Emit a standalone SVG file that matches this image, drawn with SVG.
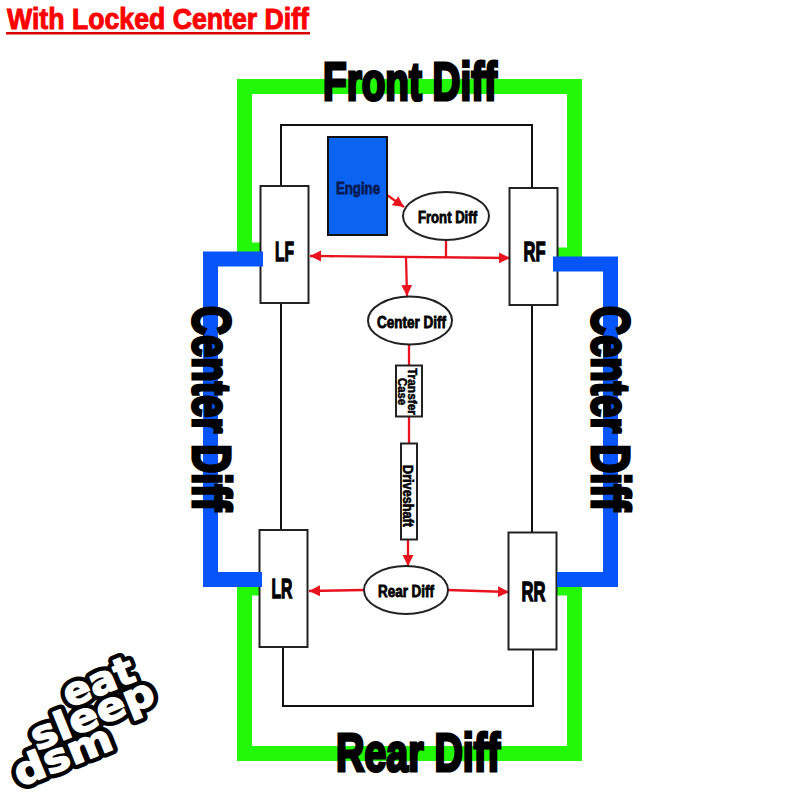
<svg xmlns="http://www.w3.org/2000/svg" width="800" height="800" viewBox="0 0 800 800">
<style>
.g{fill:none;stroke:#22f808;stroke-width:15;stroke-linejoin:miter}
.b{fill:none;stroke:#0555fa;stroke-width:15;stroke-linejoin:miter}
.k{fill:none;stroke:#111;stroke-width:2}
.r{fill:none;stroke:#e8131f;stroke-width:2.300}
.w{fill:#fff;stroke:#222;stroke-width:2}
.t{font-family:"Liberation Sans",sans-serif;font-weight:bold;fill:#000;stroke:#000;text-anchor:middle}
.big{font-size:54px;stroke-width:3.200}
.whl{font-size:28px;stroke-width:1.400}
.sm{font-size:16px;stroke-width:.8}
.eds{font-family:"DejaVu Sans",sans-serif;font-weight:bold;font-size:39px}
.eb{fill:#000;stroke:#000;stroke-width:10;stroke-linejoin:round}
.ew{fill:#fff;stroke:#fff;stroke-width:1.500;stroke-linejoin:round}
</style>
<defs>
<marker id="a" markerWidth="12" markerHeight="12" refX="11" refY="6" orient="auto" markerUnits="userSpaceOnUse"><path d="M0 0.500L11 6L0 11.500Z" fill="#e8131f"/></marker>
</defs>
<rect width="800" height="800" fill="#fff"/>
<g id="title"><text x="158" y="29" text-anchor="middle" textLength="302" lengthAdjust="spacingAndGlyphs" style="font-family:'Liberation Sans',sans-serif;font-weight:bold;font-size:30px;fill:#f00;stroke:#f00;stroke-width:1">With Locked Center Diff</text><rect x="6" y="32" width="304" height="2.500" fill="#d00"/></g>
<g id="green-frames">
<path class="g" d="M262 250H244.500V86.500H574.500V255H558"/>
<path class="g" d="M262 588H244.500V753.500H574.500V588H556"/>
</g>
<g id="connectors">
<path class="k" d="M281 186V125H532V188M281 303V530M532 305V532M283 647V706H533V650"/>
<path class="r" d="M387 195L404 207" marker-end="url(#a)"/>
<path class="r" d="M446 241V257"/>
<path class="r" d="M330 256.200L510 258" marker-end="url(#a)"/>
<path class="r" d="M334 256.200L310 256" marker-end="url(#a)"/>
<path class="r" d="M406 257L407 296" marker-end="url(#a)"/>
<path class="r" d="M409 345V365M409 417V443"/>
<path class="r" d="M408 540V566" marker-end="url(#a)"/>
<path class="r" d="M364 590L309 591" marker-end="url(#a)"/>
<path class="r" d="M448 590L509 592" marker-end="url(#a)"/>
</g>
<g id="lf"><rect class="w" x="260.500" y="186" width="48" height="117"/></g>
<g id="rf"><rect class="w" x="509.500" y="188" width="48" height="117"/></g>
<g id="lr"><rect class="w" x="259.500" y="530" width="48" height="117"/></g>
<g id="rr"><rect class="w" x="508.500" y="532.500" width="48" height="117"/></g>
<g id="blue-frames">
<path class="b" d="M263 259H210.500V579.500H262"/>
<path class="b" d="M553 264H610.500V579.500H557"/>
</g>
<g id="wheel-labels">
<text class="t whl" x="284.500" y="261" textLength="19" lengthAdjust="spacingAndGlyphs">LF</text>
<text class="t whl" x="534.500" y="261" textLength="22" lengthAdjust="spacingAndGlyphs">RF</text>
<text class="t whl" x="282" y="598" textLength="21" lengthAdjust="spacingAndGlyphs">LR</text>
<text class="t whl" x="533.500" y="601" textLength="24" lengthAdjust="spacingAndGlyphs">RR</text>
</g>
<g id="engine"><rect x="328" y="137" width="59" height="98" fill="#0a64f0" stroke="#111" stroke-width="2"/><text class="t sm" x="358" y="194" textLength="44" lengthAdjust="spacingAndGlyphs" style="fill:#061a55;stroke:#061a55">Engine</text></g>
<g id="front-diff"><ellipse class="w" cx="446" cy="216" rx="43" ry="24"/><text class="t sm" x="447.500" y="223" textLength="59" lengthAdjust="spacingAndGlyphs">Front Diff</text></g>
<g id="center-diff"><ellipse class="w" cx="410" cy="320.500" rx="42" ry="24"/><text class="t sm" x="411.500" y="328" textLength="69" lengthAdjust="spacingAndGlyphs">Center Diff</text></g>
<g id="rear-diff"><ellipse class="w" cx="406" cy="590" rx="42" ry="24"/><text class="t sm" x="406" y="597" textLength="56" lengthAdjust="spacingAndGlyphs">Rear Diff</text></g>
<g id="transfer-case"><rect class="w" x="396" y="365.500" width="26" height="51"/>
<text class="t" style="font-size:13px;stroke-width:.5" textLength="47" lengthAdjust="spacingAndGlyphs" transform="translate(408 391.500) rotate(90)">Transfer</text>
<text class="t" style="font-size:12px;stroke-width:.5" textLength="27" lengthAdjust="spacingAndGlyphs" transform="translate(398 391.500) rotate(90)">Case</text></g>
<g id="driveshaft"><rect class="w" x="401" y="443.500" width="16" height="96"/><text class="t" style="font-size:14px;stroke-width:.6" textLength="62" lengthAdjust="spacingAndGlyphs" transform="translate(403 496) rotate(90)">Driveshaft</text></g>
<g id="labels">
<text class="t big" x="410" y="100" textLength="174" lengthAdjust="spacingAndGlyphs">Front Diff</text>
<text class="t big" x="418" y="771" textLength="164" lengthAdjust="spacingAndGlyphs">Rear Diff</text>
<text class="t big" textLength="205" lengthAdjust="spacingAndGlyphs" transform="translate(193 408.500) rotate(90)">Center Diff</text>
<text class="t big" textLength="205" lengthAdjust="spacingAndGlyphs" transform="translate(592 408.500) rotate(90)">Center Diff</text>
</g>
<g id="eat-sleep-dsm" class="eds">
<g class="eb">
<text transform="translate(69 708) rotate(-22)" textLength="74" lengthAdjust="spacingAndGlyphs">eat</text>
<text transform="translate(37 751) rotate(-22)" textLength="130" lengthAdjust="spacingAndGlyphs">sleep</text>
<text transform="translate(20 787) rotate(-22)" textLength="103" lengthAdjust="spacingAndGlyphs">dsm</text>
</g>
<g class="ew">
<text transform="translate(69 708) rotate(-22)" textLength="74" lengthAdjust="spacingAndGlyphs">eat</text>
<text transform="translate(37 751) rotate(-22)" textLength="130" lengthAdjust="spacingAndGlyphs">sleep</text>
<text transform="translate(20 787) rotate(-22)" textLength="103" lengthAdjust="spacingAndGlyphs">dsm</text>
</g>
</g>
</svg>
